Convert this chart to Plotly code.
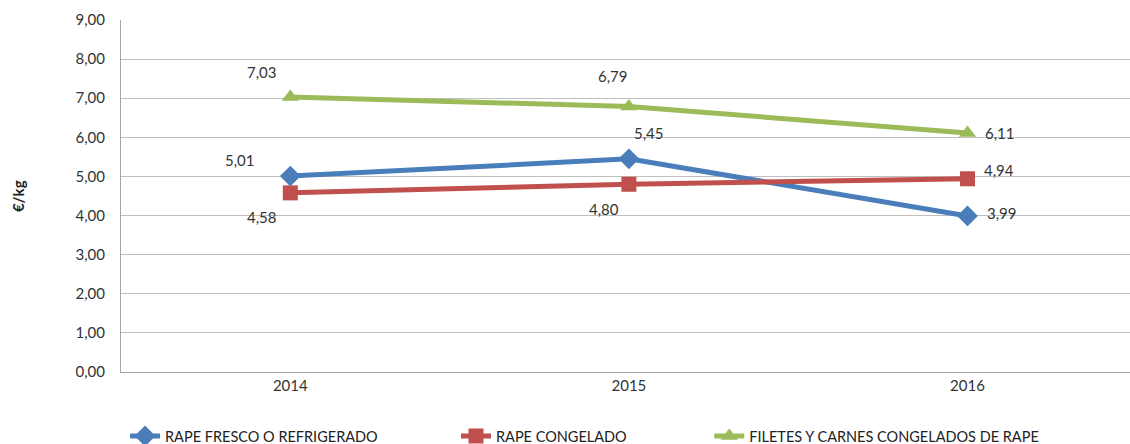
import plotly.graph_objects as go

years = ["2014", "2015", "2016"]
fresco = [5.01, 5.45, 3.99]
congelado = [4.58, 4.80, 4.94]
filetes = [7.03, 6.79, 6.11]

names = ["RAPE FRESCO O REFRIGERADO", "RAPE CONGELADO", "FILETES Y CARNES CONGELADOS DE RAPE"]
colors = ["#4A7EBB", "#C0504D", "#9BBB59"]
symbols = ["diamond", "square", "triangle-up"]
msizes = [16, 15, 15]
series = [fresco, congelado, filetes]
legends = ["legend", "legend2", "legend3"]

# label offsets (px) per series, per point
offsets = [
    [(-50, -16), (20, -26), (35, -3)],
    [(-28, 24), (-25, 25), (32, -9)],
    [(-28, -25), (-16, -30), (33, 0)],
]

FONT = "Lato, Open Sans, sans-serif"
fig = go.Figure()
for s, name, col, sym, ms, lg in zip(series, names, colors, symbols, msizes, legends):
    fig.add_trace(go.Scatter(
        x=years, y=s, mode="lines+markers", name=name,
        line=dict(color=col, width=5),
        marker=dict(symbol=sym, size=ms, color=col),
        legend=lg, showlegend=True,
    ))

annotations = []
for s, offs in zip(series, offsets):
    for i, (y, (dx, dy)) in enumerate(zip(s, offs)):
        annotations.append(dict(
            x=i, y=y, xref="x", yref="y", text=f"{y:.2f}".replace(".", ","),
            showarrow=False, xshift=dx, yshift=-dy,
            font=dict(family=FONT, size=15, color="#333333"),
        ))

annotations.append(dict(
    x=-0.102, y=0.5, xref="paper", yref="paper", xanchor="center", yanchor="middle",
    text="<b>€/kg</b>", textangle=-90, showarrow=False,
    font=dict(family=FONT, size=15, color="#222222"),
))

legend_common = dict(orientation="h", yanchor="middle", xanchor="left",
                     font=dict(family=FONT, size=14.5, color="#222222"),
                     bgcolor="rgba(0,0,0,0)", itemwidth=30, tracegroupgap=0)

fig.update_layout(
    width=1130, height=444,
    showlegend=True,
    margin=dict(l=121, r=0, t=20, b=72, autoexpand=False),
    paper_bgcolor="white", plot_bgcolor="white",
    separators=",.",
    font=dict(family=FONT, size=15, color="#333333"),
    xaxis=dict(type="category", range=[-0.5, 2.48], showgrid=False,
               showline=True, linecolor="#A6A6A6", linewidth=1, mirror=False,
               ticks="", tickfont=dict(size=15, color="#333333"), automargin=False),
    yaxis=dict(range=[0, 9], dtick=1, tickformat=".2f", showgrid=True,
               gridcolor="#BFBFBF", gridwidth=1, showline=True, mirror=False,
               linecolor="#A6A6A6", linewidth=1, ticks="", zeroline=False,
               tickfont=dict(size=15, color="#333333"), ticklabelstandoff=12,
               automargin=False),
    legend=dict(x=0.004, y=-0.182, **legend_common),
    legend2=dict(x=0.332, y=-0.182, **legend_common),
    legend3=dict(x=0.583, y=-0.182, **legend_common),
    annotations=annotations,
)

fig.write_html("out.html", config={"displayModeBar": False},
               post_script="document.documentElement.style.overflow='hidden';document.body.style.margin='0';document.body.style.overflow='hidden';")
